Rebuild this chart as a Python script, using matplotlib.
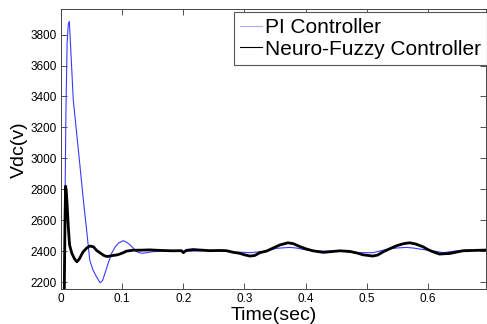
import matplotlib
matplotlib.use("Agg")
import matplotlib.pyplot as plt
from matplotlib.lines import Line2D

plt.rcParams['font.family'] = ['Liberation Sans', 'DejaVu Sans']

# PI controller response (time in s, Vdc in V)
pi_t = [0.0, 0.004, 0.006, 0.008, 0.010, 0.012, 0.0136, 0.016, 0.020, 0.0256,
        0.031, 0.0365, 0.042, 0.047, 0.052, 0.058, 0.064, 0.068, 0.072, 0.077,
        0.083, 0.089, 0.094, 0.099, 0.102, 0.107, 0.113, 0.118, 0.124, 0.130,
        0.134, 0.140, 0.150, 0.173, 0.200, 0.227, 0.260, 0.280, 0.298, 0.309,
        0.325, 0.336, 0.352, 0.363, 0.374, 0.385, 0.396, 0.407, 0.418, 0.456,
        0.483, 0.510, 0.521, 0.532, 0.548, 0.565, 0.576, 0.587, 0.598, 0.608,
        0.625, 0.647, 0.663, 0.696]
pi_v = [2000, 2000, 2500, 3300, 3750, 3870, 3885, 3700, 3378, 3162,
        2950, 2730, 2530, 2342, 2280, 2234, 2195, 2210, 2258, 2320,
        2388, 2430, 2452, 2462, 2467, 2458, 2440, 2420, 2396, 2388,
        2386, 2390, 2396, 2402, 2398, 2402, 2405, 2394, 2392, 2390,
        2396, 2400, 2418, 2421, 2424, 2420, 2411, 2404, 2400, 2400,
        2390, 2390, 2400, 2411, 2420, 2424, 2420, 2413, 2407, 2402,
        2390, 2402, 2407, 2407]

# Neuro-fuzzy controller response
nf_t = [0.0, 0.005, 0.0065, 0.0075, 0.0085, 0.010, 0.012, 0.014, 0.0175, 0.022,
        0.026, 0.030, 0.036, 0.042, 0.047, 0.053, 0.058, 0.064, 0.070, 0.075,
        0.080, 0.085, 0.091, 0.096, 0.102, 0.107, 0.118, 0.129, 0.145, 0.160,
        0.173, 0.183, 0.197, 0.200, 0.205, 0.216, 0.227, 0.243, 0.260, 0.270,
        0.282, 0.292, 0.300, 0.309, 0.317, 0.325, 0.336, 0.347, 0.358, 0.371,
        0.380, 0.390, 0.401, 0.412, 0.429, 0.445, 0.456, 0.472, 0.484, 0.494,
        0.510, 0.518, 0.527, 0.538, 0.549, 0.560, 0.570, 0.580, 0.592, 0.600,
        0.608, 0.619, 0.636, 0.657, 0.680, 0.696]
nf_v = [2000, 2000, 2600, 2820, 2790, 2700, 2550, 2440, 2388, 2350,
        2331, 2350, 2395, 2420, 2433, 2428, 2405, 2388, 2372, 2365,
        2368, 2372, 2375, 2381, 2390, 2400, 2406, 2406, 2408, 2405,
        2403, 2402, 2403, 2390, 2405, 2410, 2407, 2403, 2404, 2403,
        2392, 2386, 2376, 2368, 2372, 2390, 2400, 2420, 2440, 2454,
        2448, 2430, 2414, 2402, 2392, 2398, 2402, 2398, 2388, 2376,
        2368, 2375, 2396, 2416, 2435, 2448, 2454, 2446, 2428, 2410,
        2396, 2381, 2385, 2402, 2405, 2407]

fig = plt.figure(figsize=(4.87, 3.24), dpi=100)
ax = fig.add_axes([0.1253, 0.108, 0.8727, 0.863])

ax.plot(pi_t, pi_v, color='#3a3aff', lw=0.8, label='PI Controller')
ax.plot(nf_t, nf_v, color='black', lw=2.0, label='Neuro-Fuzzy Controller')

ax.set_xlim(0, 0.695)
ax.set_ylim(2155, 3963)
ax.set_xticks([0, 0.1, 0.2, 0.3, 0.4, 0.5, 0.6])
ax.set_xticklabels(['0', '0.1', '0.2', '0.3', '0.4', '0.5', '0.6'])
ax.set_yticks([2200, 2400, 2600, 2800, 3000, 3200, 3400, 3600, 3800])
ax.tick_params(direction='in', length=4, width=0.6, labelsize=8.5,
               top=True, right=True, colors='#333333', labelcolor='black', pad=3)
for s in ax.spines.values():
    s.set_linewidth(0.7)
    s.set_color('#444444')

ax.set_xlabel('Time(sec)', fontsize=14, labelpad=1)
ax.set_ylabel('Vdc(v)', fontsize=14, labelpad=2)

handles = [Line2D([], [], color='#a8a8ff', lw=0.8),
           Line2D([], [], color='black', lw=0.8)]
leg = ax.legend(handles, ['PI Controller', 'Neuro-Fuzzy Controller'],
                loc='upper right', bbox_to_anchor=(1.003, 0.991),
                borderaxespad=0, fontsize=15, handlelength=1.05,
                handletextpad=0.15, borderpad=0.3, labelspacing=0.12,
                fancybox=False, framealpha=1, edgecolor='#555555')
leg.get_frame().set_linewidth(0.8)

fig.savefig('out.png', dpi=100)
